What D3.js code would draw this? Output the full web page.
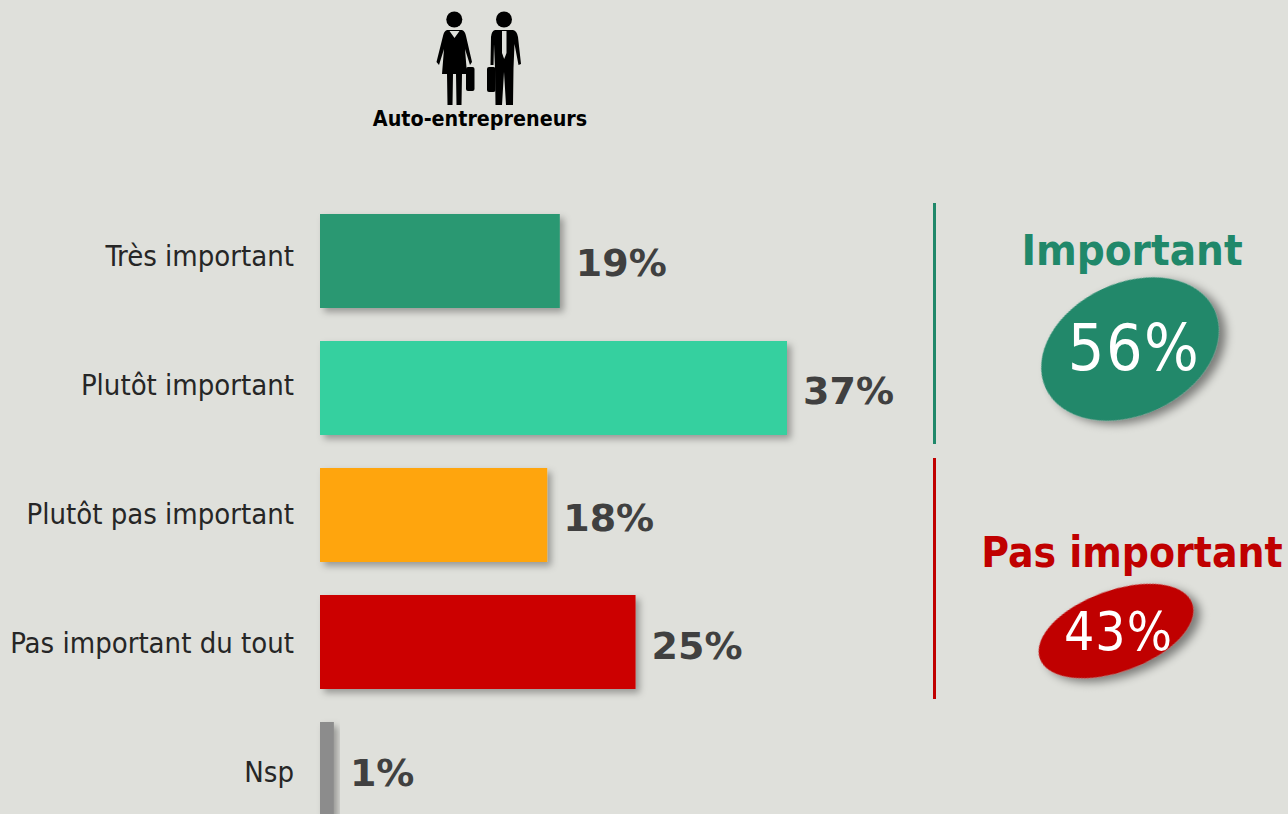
<!DOCTYPE html>
<html><head><meta charset="utf-8">
<script src="https://cdn.jsdelivr.net/npm/d3@7"></script>
<style>html,body{margin:0;padding:0;background:#dfe0db;overflow:hidden}svg{display:block}text{font-family:"DejaVu Sans",sans-serif}.cd{font-family:"DejaVu Sans Condensed","DejaVu Sans",sans-serif;font-stretch:condensed}</style>
</head><body><div id="c"></div>
<script>
const categories=["Très important","Plutôt important","Plutôt pas important","Pas important du tout","Nsp"];
const values=[19,37,18,25,1.1];
const valueLabels=["19%","37%","18%","25%","1%"];
const barColors=["#299872","#36d09f","#ffa508","#cc0502","#8c8c8c"];
const groups=["Important","Pas important"];
const groupValues=["56%","43%"];
const groupColors=["#20886a","#c00000"];
const W=1288,H=814;
const svg=d3.select("#c").append("svg").attr("width",W).attr("height",H);
svg.append("rect").attr("width",W).attr("height",H).attr("fill","#dfe0db");
const defs=svg.append("defs");
const mk=(id,dx,dy,sd,op)=>{const f=defs.append("filter").attr("id",id).attr("x","-30%").attr("y","-30%").attr("width","170%").attr("height","170%");
 f.append("feDropShadow").attr("dx",dx).attr("dy",dy).attr("stdDeviation",sd).attr("flood-color","#000").attr("flood-opacity",op);};
mk("sh",4,4,3.5,.32);mk("sh2",5,6,5,.45);
const x=d3.scaleLinear().domain([0,37]).range([320,787]);
const y=d3.scaleBand().domain(categories).range([214,816]).paddingInner(33/127).paddingOuter(0);
const yCat=d3.scalePoint().domain(categories).range([266,782]);
const yVal=d3.scalePoint().domain(categories).range([276,786]);
const g=svg.append("g");
g.selectAll("rect").data(categories).join("rect")
 .attr("x",x(0)).attr("y",d=>y(d)).attr("height",y.bandwidth())
 .attr("width",(d,i)=>x(values[i])-x(0)).attr("fill",(d,i)=>barColors[i]).attr("filter","url(#sh)");
g.selectAll("text.cat").data(categories).join("text").attr("class","cat cd")
 .attr("x",294).attr("y",d=>yCat(d)).attr("text-anchor","end")
 .attr("font-size",29).attr("fill","#262626").text(d=>d);
g.selectAll("text.val").data(categories).join("text").attr("class","val")
 .attr("x",(d,i)=>x(values[i])+16).attr("y",d=>yVal(d))
 .attr("font-size",38).attr("font-weight",700).attr("fill","#404040").text((d,i)=>valueLabels[i]);
[[203,444,0],[458,699,1]].forEach(([a,b,i])=>svg.append("line").attr("x1",934.5).attr("x2",934.5).attr("y1",a).attr("y2",b).attr("stroke",groupColors[i]).attr("stroke-width",3));
const sum=[{cx:1130,cy:349,rx:93,ry:66,rot:-25,ty:265,ts:43.5,vy:370,vx:1134,vs:64,ls:1.5},{cx:1116,cy:631,rx:81,ry:40.5,rot:-20,ty:567,ts:42.2,vy:650,vx:1118.5,vs:53,ls:1}];
sum.forEach((s,i)=>{
 svg.append("text").attr("class","cd").attr("x",1132).attr("y",s.ty).attr("text-anchor","middle").attr("font-size",s.ts).attr("font-weight",700).attr("fill",groupColors[i]).text(groups[i]);
 svg.append("ellipse").attr("rx",s.rx).attr("ry",s.ry).attr("transform",`translate(${s.cx},${s.cy}) rotate(${s.rot})`).attr("fill",groupColors[i]).attr("filter","url(#sh2)");
 svg.append("text").attr("class","cd").attr("x",s.vx).attr("y",s.vy).attr("text-anchor","middle").attr("font-size",s.vs).attr("letter-spacing",s.ls).attr("fill","#fff").text(groupValues[i]);
});
const ic=svg.append("g").attr("fill","#000");
ic.append("circle").attr("cx",454.3).attr("cy",19.5).attr("r",8);
ic.append("path").attr("d","M447 30 L462 30 Q465 31 466 36 L472 62 L470 65 L465 49 L467 74 L462 74 L461.5 105 L456.5 105 L456 74 L453 74 L452.5 105 L447.5 105 L447 74 L442 74 L444 49 L439 65 L436.5 62 L443 36 Q444 31 447 30Z");
ic.append("path").attr("fill","#dfe0db").attr("d","M449.5 31 L459.5 31 L454.5 38Z");
ic.append("rect").attr("x",466).attr("y",67).attr("width",8.5).attr("height",24).attr("rx",2);
ic.append("circle").attr("cx",504).attr("cy",19.5).attr("r",8);
ic.append("path").attr("d","M495 30 L513 30 Q517 31 518 37 L521 64 L518.5 65 L514.5 44 L513.5 68 L513 105 L506 105 L504 72 L502 105 L495.5 105 L495 68 L494 44 L493.5 65 L490.5 65 L491 37 Q491.5 31 495 30Z");
ic.append("path").attr("fill","#dfe0db").attr("d","M502 31 L506.5 31 L506.5 53 L504.2 59 L502 53Z");
ic.append("rect").attr("x",487).attr("y",67).attr("width",8.5).attr("height",25).attr("rx",2);
svg.append("text").attr("class","cd").attr("x",480).attr("y",126).attr("text-anchor","middle").attr("font-size",21.3).attr("font-weight",700).attr("fill","#000").text("Auto-entrepreneurs");
</script></body></html>
